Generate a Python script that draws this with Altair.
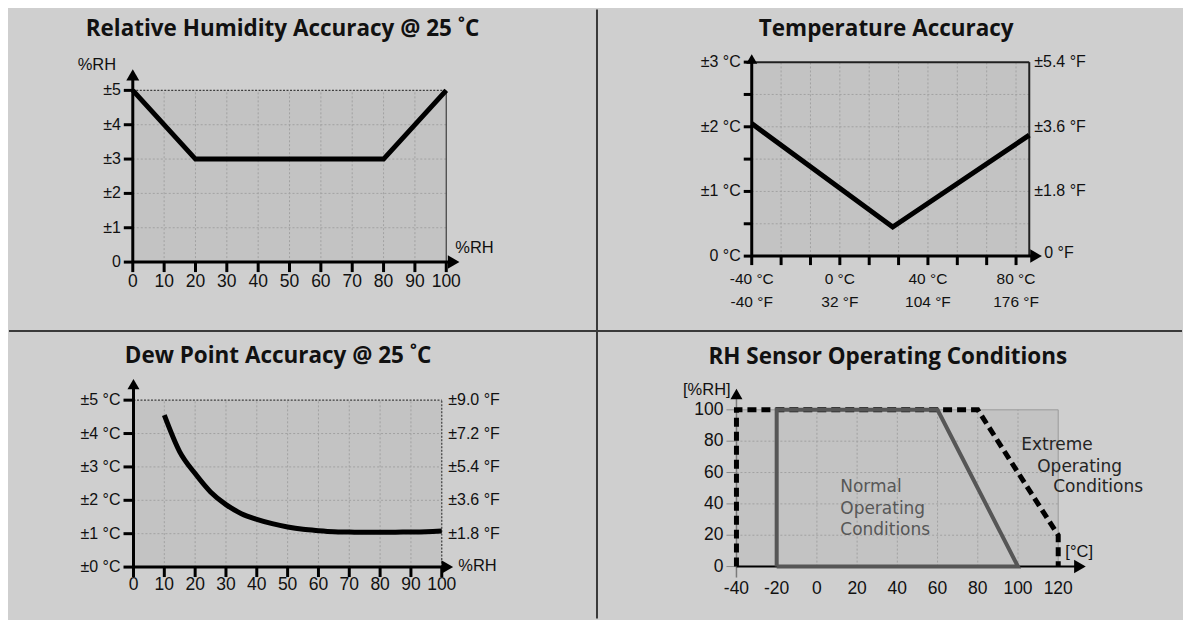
import altair as alt
import pandas as pd

# ---------------- style ----------------
BG = "#cfcfcf"
PLOT = "#c3c3c3"
GRID = "#a2a2a2"
EDGE = "#3e3e3e"
INK = "#111111"
REG = "Liberation Sans, Arial, sans-serif"
TITLE_FONT = "Open Sans, DejaVu Sans, sans-serif"
NOTE_FONT = "DejaVu Sans, sans-serif"

W_L, W_R, H_T, H_B = 590, 585, 321, 289

# ---------------- data ----------------
# Relative humidity accuracy
rh_points_x = [0, 20, 80, 100]
rh_points_acc = [5, 3, 3, 5]
rh_xticks = [0, 10, 20, 30, 40, 50, 60, 70, 80, 90, 100]
rh_xlabels = ["0", "10", "20", "30", "40", "50", "60", "70", "80", "90", "100"]
rh_yticks = [0, 1, 2, 3, 4, 5]
rh_ylabels = ["0", "±1", "±2", "±3", "±4", "±5"]

# Temperature accuracy
temp_points_c = [-40, 24, 86]
temp_points_acc = [2.05, 0.45, 1.87]
temp_xticks = [-40, -26.667, -13.333, 0, 13.333, 26.667, 40, 53.333, 66.667, 80]
temp_yticks = [0, 0.5, 1, 1.5, 2, 2.5, 3]
temp_label_c = [-40, 0, 40, 80]
temp_label_c_text = ["-40 °C", "0 °C", "40 °C", "80 °C"]
temp_label_f_text = ["-40 °F", "32 °F", "104 °F", "176 °F"]
temp_ylabel_values = [0, 1, 2, 3]
temp_ylabels = ["0 °C", "±1 °C", "±2 °C", "±3 °C"]
temp_f_values = [1, 2, 3]
temp_f_labels = ["±1.8 °F", "±3.6 °F", "±5.4 °F"]

# Dew point accuracy
dp_rh = [10, 15, 20, 25, 30, 35, 40, 45, 50, 55, 60, 65, 70, 75, 80, 85, 90, 95, 100]
dp_acc = [4.55, 3.45, 2.8, 2.25, 1.87, 1.6, 1.43, 1.3, 1.2, 1.13, 1.09, 1.06,
          1.05, 1.04, 1.04, 1.045, 1.05, 1.06, 1.08]
dp_xticks = [0, 10, 20, 30, 40, 50, 60, 70, 80, 90, 100]
dp_xlabels = ["0", "10", "20", "30", "40", "50", "60", "70", "80", "90", "100"]
dp_yticks = [0, 1, 2, 3, 4, 5]
dp_ylabels = ["±0 °C", "±1 °C", "±2 °C", "±3 °C", "±4 °C", "±5 °C"]
dp_f_values = [1, 2, 3, 4, 5]
dp_f_labels = ["±1.8 °F", "±3.6 °F", "±5.4 °F", "±7.2 °F", "±9.0 °F"]

# RH sensor operating conditions
op_normal_t = [-20, -20, 60, 100, -20]
op_normal_rh = [0, 100, 100, 0, 0]
op_extreme_t = [-40, -40, 80, 120, 120]
op_extreme_rh = [0, 100, 100, 20, 0]
op_xticks = [-40, -20, 0, 20, 40, 60, 80, 100, 120]
op_xlabels = ["-40", "-20", "0", "20", "40", "60", "80", "100", "120"]
op_yticks = [0, 20, 40, 60, 80, 100]
op_ylabels = ["0", "20", "40", "60", "80", "100"]


# ---------------- helpers ----------------
def sc(domain, rng):
    return alt.Scale(domain=domain, range=rng, nice=False, zero=False)


def XQ(f, s, axis=None):
    return alt.X(f"{f}:Q", scale=s, axis=axis)


def YQ(f, s):
    return alt.Y(f"{f}:Q", scale=s, axis=None)


def units_per_px(s):
    d0, d1 = s.domain
    r0, r1 = s.range
    return abs(d1 - d0) / abs(r1 - r0)


def tick_axis(values, sy, height, length):
    # ticks only: hangs below the x axis line, which sits at the bottom of the y range
    return alt.Axis(values=values, offset=sy.range[0] - height, ticks=True, tickSize=length,
                    tickWidth=3, tickColor="#000", tickOpacity=1, labels=False, domain=False,
                    grid=False, title=None, zindex=1)


def seg_v(xs, y0, y1, sx, sy, **mk):
    df = pd.DataFrame({"x": xs, "y0": [y0] * len(xs), "y1": [y1] * len(xs)})
    return alt.Chart(df).mark_rule(**mk).encode(x=XQ("x", sx), y=YQ("y0", sy), y2="y1:Q")


def seg_h(ys, x0, x1, sx, sy, **mk):
    df = pd.DataFrame({"y": ys, "x0": [x0] * len(ys), "x1": [x1] * len(ys)})
    return alt.Chart(df).mark_rule(**mk).encode(y=YQ("y", sy), x=XQ("x0", sx), x2="x1:Q")


def block(x0, x1, y0, y1, sx, sy, xaxis=None, **mk):
    df = pd.DataFrame({"x0": [x0], "x1": [x1], "y0": [y0], "y1": [y1]})
    return alt.Chart(df).mark_rect(**mk).encode(
        x=XQ("x0", sx, xaxis), x2="x1:Q", y=YQ("y0", sy), y2="y1:Q")


def tri(x, y, shape, size, sx, sy):
    df = pd.DataFrame({"x": [x], "y": [y]})
    return alt.Chart(df).mark_point(shape=shape, size=size, filled=True, color="#000",
                                    opacity=1, strokeWidth=0).encode(x=XQ("x", sx), y=YQ("y", sy))


def xticks(values, y, sx, sy, length, width=3, color="#000"):
    return seg_v(values, y - length * units_per_px(sy), y, sx, sy, strokeWidth=width, color=color)


def yticks(values, x, sx, sy, length, width=3, color="#000"):
    return seg_h(values, x - length * units_per_px(sx), x, sx, sy, strokeWidth=width, color=color)


def data_text(xs, ys, labels, sx, sy, **mk):
    df = pd.DataFrame({"x": xs, "y": ys, "lab": labels})
    return alt.Chart(df).mark_text(**mk).encode(x=XQ("x", sx), y=YQ("y", sy), text="lab:N")


def xlabels(values, labels, y, sx, sy, dy, size):
    return data_text(values, [y] * len(values), labels, sx, sy, font=REG, fontSize=size,
                     color=INK, align="center", baseline="middle", dy=dy)


def ylabels(values, labels, x, sx, sy, dx, size):
    return data_text([x] * len(values), values, labels, sx, sy, font=REG, fontSize=size,
                     color=INK, align="right", baseline="middle", dx=dx)


def px_text(text, x, y, **mk):
    return alt.Chart(pd.DataFrame({"d": [0]})).mark_text(**mk).encode(
        x=alt.value(x), y=alt.value(y), text=alt.value(text))


def px_rule(x, y, x2=None, y2=None, **mk):
    enc = dict(x=alt.value(x), y=alt.value(y))
    if x2 is not None:
        enc["x2"] = alt.value(x2)
    if y2 is not None:
        enc["y2"] = alt.value(y2)
    return alt.Chart(pd.DataFrame({"d": [0]})).mark_rule(**mk).encode(**enc)


def title_text(text, x, y):
    return px_text(text, x, y, font=TITLE_FONT, fontSize=22.5, fontWeight="bold",
                   color="#111", align="center", baseline="alphabetic")


def unit_text(text, x, y, align="center"):
    return px_text(text, x, y, font=REG, fontSize=16.5, color=INK, align=align, baseline="middle")


grid_style = dict(color=GRID, strokeDash=[2, 2], strokeWidth=1)
DIV = dict(color="#3a3a3a", strokeWidth=2)

# ---------------- panel 1: RH accuracy ----------------
sx1 = sc([0, 100], [124, 438])
sy1 = sc([0, 5], [253, 81])
rh_line = alt.Chart(pd.DataFrame({"x": rh_points_x, "y": rh_points_acc})).mark_line(
    color="#000", strokeWidth=5).encode(x=XQ("x", sx1), y=YQ("y", sy1))

p1 = alt.layer(
    block(0, 100, 0, 5, sx1, sy1, xaxis=tick_axis(rh_xticks, sy1, H_T, 10), color=PLOT),
    seg_v(rh_xticks[1:-1], 0, 5, sx1, sy1, **grid_style),
    seg_h(rh_yticks[1:-1], 0, 100, sx1, sy1, **grid_style),
    seg_h([5], 0, 100, sx1, sy1, color=EDGE, strokeDash=[2, 1.5], strokeWidth=1.2),
    seg_v([100], 0, 5, sx1, sy1, color=EDGE, strokeWidth=1.2),
    rh_line,
    xticks(rh_xticks, 0, sx1, sy1, 10),
    seg_h([0], 0, 102.35, sx1, sy1, color="#000", strokeWidth=3),
    seg_v([0], 0, 5.45, sx1, sy1, color="#000", strokeWidth=3),
    tri(0, 5.45, "triangle-up", 169, sx1, sy1),
    tri(102.35, 0, "triangle-right", 182, sx1, sy1),
    yticks(rh_yticks, 0, sx1, sy1, 9),
    xlabels(rh_xticks, rh_xlabels, 0, sx1, sy1, 20, 17.5),
    ylabels(rh_yticks, rh_ylabels, 0, sx1, sy1, -12, 16),
    unit_text("%RH", 88, 56),
    unit_text("%RH", 447, 239, align="left"),
    title_text("Relative Humidity Accuracy @ 25 ˚C", 274, 27),
    px_rule(589, 0, y2=H_T, **DIV),
).properties(width=W_L, height=H_T)

# ---------------- panel 2: temperature accuracy ----------------
sx2 = sc([-40, 86], [154, 432])
sy2 = sc([0, 3], [247, 52.7])
temp_line = alt.Chart(pd.DataFrame({"x": temp_points_c, "y": temp_points_acc})).mark_line(
    color="#000", strokeWidth=5).encode(x=XQ("x", sx2), y=YQ("y", sy2))

p2 = alt.layer(
    block(-40, 86, 0, 3, sx2, sy2, xaxis=tick_axis(temp_xticks, sy2, H_T, 9), color=PLOT),
    seg_v(temp_xticks[1:], 0, 3, sx2, sy2, **grid_style),
    seg_h(temp_yticks[1:-1], -40, 86, sx2, sy2, **grid_style),
    seg_h([3], -40, 86, sx2, sy2, color="#202020", strokeWidth=2),
    seg_v([86], 0, 3, sx2, sy2, color="#202020", strokeWidth=2),
    temp_line,
    xticks(temp_xticks, 0, sx2, sy2, 9),
    seg_h([0], -40, 89.1, sx2, sy2, color="#000", strokeWidth=3),
    seg_v([-40], 0, 3.05, sx2, sy2, color="#000", strokeWidth=3),
    tri(-40, 3.05, "triangle-up", 121, sx2, sy2),
    tri(89.1, 0, "triangle-right", 182, sx2, sy2),
    yticks(temp_yticks, -40, sx2, sy2, 8),
    xlabels(temp_label_c, temp_label_c_text, 0, sx2, sy2, 23.3, 15.5),
    xlabels(temp_label_c, temp_label_f_text, 0, sx2, sy2, 46, 15.5),
    ylabels(temp_ylabel_values, temp_ylabels, -40, sx2, sy2, -11, 16),
    data_text([86] * len(temp_f_values), temp_f_values, temp_f_labels, sx2, sy2,
              font=REG, fontSize=16, color=INK, align="left", baseline="middle", dx=5),
    data_text([86], [0], ["0 °F"], sx2, sy2,
              font=REG, fontSize=16, color=INK, align="left", baseline="middle", dx=15, dy=-3),
    title_text("Temperature Accuracy", 288.7, 27),
).properties(width=W_R, height=H_T)

# ---------------- panel 3: dew point accuracy ----------------
sx3 = sc([0, 100], [124.7, 433.5])
sy3 = sc([0, 5], [237.5, 70.3])
dp_line = alt.Chart(pd.DataFrame({"x": dp_rh, "y": dp_acc})).mark_line(
    color="#000", strokeWidth=5, interpolate="monotone").encode(x=XQ("x", sx3), y=YQ("y", sy3))

p3 = alt.layer(
    block(0, 100, 0, 5, sx3, sy3, xaxis=tick_axis(dp_xticks, sy3, H_B, 10), color=PLOT),
    seg_v(dp_xticks[1:-1], 0, 5, sx3, sy3, **grid_style),
    seg_h(dp_yticks[1:-1], 0, 100, sx3, sy3, **grid_style),
    seg_h([5], 0, 100, sx3, sy3, color=EDGE, strokeDash=[2, 1.5], strokeWidth=1.2),
    seg_v([100], 0, 5, sx3, sy3, color=EDGE, strokeDash=[2, 1.5], strokeWidth=1.2),
    dp_line,
    xticks(dp_xticks, 0, sx3, sy3, 10),
    seg_h([0], 0, 101.8, sx3, sy3, color="#000", strokeWidth=3),
    seg_v([0], 0, 5.48, sx3, sy3, color="#000", strokeWidth=3),
    tri(0, 5.48, "triangle-up", 144, sx3, sy3),
    tri(101.8, 0, "triangle-right", 182, sx3, sy3),
    yticks(dp_yticks, 0, sx3, sy3, 10),
    xlabels(dp_xticks, dp_xlabels, 0, sx3, sy3, 18, 17.5),
    ylabels(dp_yticks, dp_ylabels, 0, sx3, sy3, -13, 16),
    data_text([100] * len(dp_f_values), dp_f_values, dp_f_labels, sx3, sy3,
              font=REG, fontSize=16, color=INK, align="left", baseline="middle", dx=6.5),
    data_text([100], [0], ["%RH"], sx3, sy3,
              font=REG, fontSize=16.5, color=INK, align="left", baseline="middle", dx=16.5, dy=-1),
    title_text("Dew Point Accuracy @ 25 ˚C", 269.5, 32.7),
    px_rule(589, 0, y2=H_B, **DIV),
    px_rule(0, 1, x2=W_L, **DIV),
).properties(width=W_L, height=H_B)

# ---------------- panel 4: operating conditions ----------------
sx4 = sc([-40, 120], [138.7, 461])
sy4 = sc([0, 100], [237, 80])
normal = alt.Chart(pd.DataFrame({"t": op_normal_t, "rh": op_normal_rh,
                                 "i": list(range(len(op_normal_t)))})).mark_line(
    color="#565656", strokeWidth=4, strokeJoin="miter").encode(
    x=XQ("t", sx4), y=YQ("rh", sy4), order="i:Q")
extreme = alt.Chart(pd.DataFrame({"t": op_extreme_t, "rh": op_extreme_rh,
                                  "i": list(range(len(op_extreme_t)))})).mark_line(
    color="#000", strokeWidth=5, strokeDash=[9, 5]).encode(
    x=XQ("t", sx4), y=YQ("rh", sy4), order="i:Q")

p4 = alt.layer(
    block(-40, 120, 0, 100, sx4, sy4, color=PLOT),
    seg_v(op_xticks[1:-1], 0, 100, sx4, sy4, **grid_style),
    seg_h(op_yticks[1:-1], -40, 120, sx4, sy4, **grid_style),
    seg_h([100], -40, 120, sx4, sy4, color="#9a9a9a", strokeWidth=1),
    seg_v([120], 0, 100, sx4, sy4, color="#9a9a9a", strokeWidth=1),
    seg_v([-40], -7, 110.1, sx4, sy4, color="#7a7a7a", strokeWidth=1.5),
    seg_h([0], -40, 130.8, sx4, sy4, color="#000", strokeWidth=2),
    tri(-40, 110.1, "triangle-up", 144, sx4, sy4),
    tri(130.8, 0, "triangle-right", 182, sx4, sy4),
    yticks(op_yticks, -40, sx4, sy4, 10, width=1, color="#8a8a8a"),
    xlabels(op_xticks, op_xlabels, 0, sx4, sy4, 22, 17.5),
    ylabels(op_yticks, op_ylabels, -40, sx4, sy4, -13, 17.5),
    extreme,
    normal,
    unit_text("[%RH]", 109, 60),
    unit_text("[°C]", 482, 222),
    px_text(["Normal", "Operating", "Conditions"], 242.7, 157.7, font=NOTE_FONT, fontSize=17,
            color="#575757", align="left", baseline="middle", lineHeight=21.5),
    px_text("Extreme", 424, 115, font=NOTE_FONT, fontSize=17, color="#242424",
            align="left", baseline="middle"),
    px_text("Operating", 440, 137, font=NOTE_FONT, fontSize=17, color="#242424",
            align="left", baseline="middle"),
    px_text("Conditions", 456, 157.7, font=NOTE_FONT, fontSize=17, color="#242424",
            align="left", baseline="middle"),
    title_text("RH Sensor Operating Conditions", 290.3, 34.3),
    px_rule(0, 1, x2=W_R, **DIV),
).properties(width=W_R, height=H_B)

chart = alt.concat(p1, p2, p3, p4, columns=2, spacing=0, bounds="flush", align="each",
                   padding=0, background=BG).configure_view(stroke=None)

chart.save("out.html", embed_options={"renderer": "svg", "actions": False})
